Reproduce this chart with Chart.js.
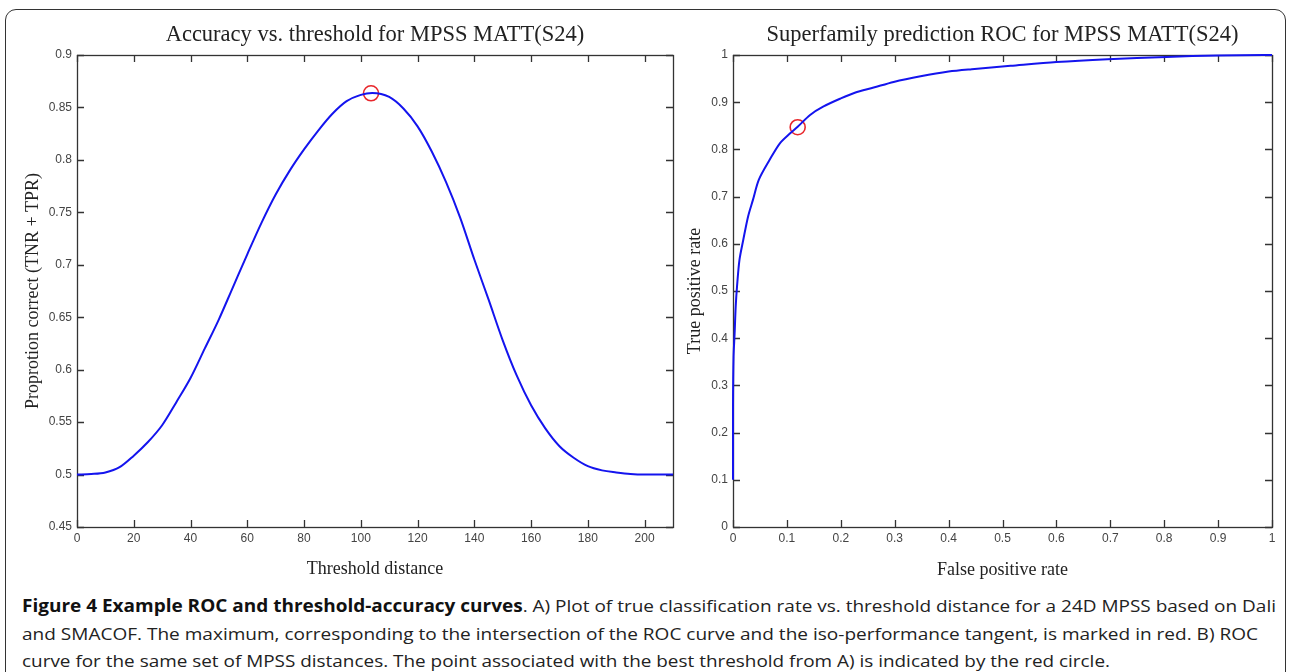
<!DOCTYPE html>
<html>
<head>
<meta charset="utf-8">
<script src="https://cdn.jsdelivr.net/npm/chart.js@4.4.1/dist/chart.umd.min.js"></script>
<style>
  html, body { margin: 0; padding: 0; background: #fff; }
  body { width: 1290px; height: 672px; position: relative; overflow: hidden; }
  #frame {
    position: absolute; left: 5px; top: 9px; width: 1281px; height: 700px;
    border: 1.5px solid #333; border-radius: 11px; box-sizing: border-box;
  }
  #leftWrap { position: absolute; left: 0; top: 0; width: 700px; height: 590px; }
  #rightWrap { position: absolute; left: 680px; top: 0; width: 610px; height: 590px; }
  .cap {
    position: absolute; left: 22px; white-space: nowrap; transform-origin: 0 50%;
    font-family: "Open Sans", "Noto Sans", sans-serif; font-size: 17px; color: #222;
    line-height: 24px;
  }
  .cap b { color: #111; }
</style>
</head>
<body>
<div id="frame"></div>
<div id="leftWrap"><canvas id="accChart" width="700" height="590"></canvas></div>
<div id="rightWrap"><canvas id="rocChart" width="610" height="590"></canvas></div>

<div class="cap" id="cap1" style="top:594px"><b>Figure 4 Example ROC and threshold-accuracy curves</b>. A) Plot of true classification rate vs. threshold distance for a 24D MPSS based on Dali</div>
<div class="cap" id="cap2" style="top:622px">and SMACOF. The maximum, corresponding to the intersection of the ROC curve and the iso-performance tangent, is marked in red. B) ROC</div>
<div class="cap" id="cap3" style="top:649px">curve for the same set of MPSS distances. The point associated with the best threshold from A) is indicated by the red circle.</div>

<script>
// ---- data ----
const thresholdX = [0, 5, 10, 15, 20, 25, 30, 35, 40, 45, 50, 55, 60, 65, 70, 75, 80, 85, 90, 95,
    100, 104, 110, 115, 120, 125, 130, 135, 140, 145, 150, 155, 160, 165, 170, 175, 180, 185, 190, 195, 200, 210];
const accuracyY = [0.5, 0.5005, 0.502, 0.507, 0.518, 0.531, 0.547, 0.569, 0.592, 0.620, 0.648, 0.679, 0.710, 0.740, 0.767, 0.790, 0.810, 0.828, 0.844, 0.856,
    0.862, 0.8638, 0.860, 0.849, 0.832, 0.808, 0.779, 0.745, 0.705, 0.667, 0.628, 0.594, 0.566, 0.544, 0.527, 0.516, 0.508, 0.504, 0.502, 0.5005, 0.5, 0.5];

const fprX = [0, 0, 0.001, 0.003, 0.005, 0.0075, 0.012, 0.019, 0.028, 0.037, 0.048, 0.068, 0.087, 0.106, 0.12,
    0.143, 0.168, 0.2, 0.226, 0.261, 0.298, 0.348, 0.4, 0.443, 0.515, 0.6, 0.695, 0.804, 0.9, 0.985, 1.0];
const tprY = [0.1, 0.255, 0.36, 0.41, 0.467, 0.51, 0.566, 0.608, 0.658, 0.693, 0.736, 0.778, 0.813, 0.834, 0.848,
    0.873, 0.891, 0.908, 0.92, 0.931, 0.943, 0.955, 0.965, 0.97, 0.977, 0.985, 0.991, 0.996, 0.999, 1.0, 1.0];

const bestThreshold = [103.6];
const bestAccuracy = [0.8635];
const bestFpr = [0.12];
const bestTpr = [0.847];

const accTicksX = [0, 20, 40, 60, 80, 100, 120, 140, 160, 180, 200];
const accTickLabelsX = ['0', '20', '40', '60', '80', '100', '120', '140', '160', '180', '200'];
const accTicksY = [0.45, 0.5, 0.55, 0.6, 0.65, 0.7, 0.75, 0.8, 0.85, 0.9];
const accTickLabelsY = ['0.45', '0.5', '0.55', '0.6', '0.65', '0.7', '0.75', '0.8', '0.85', '0.9'];
const rocTicks = [0, 0.1, 0.2, 0.3, 0.4, 0.5, 0.6, 0.7, 0.8, 0.9, 1];
const rocTickLabels = ['0', '0.1', '0.2', '0.3', '0.4', '0.5', '0.6', '0.7', '0.8', '0.9', '1'];

// ---- helpers ----
const BLUE = '#1414ee';
const RED = '#e8262b';
const AXIS = '#333';

function toPoints(xs, ys) {
    return xs.map((x, i) => ({ x: x, y: ys[i] }));
}

function useTicks(values, labels) {
    return {
        afterBuildTicks: (scale) => { scale.ticks = values.map(v => ({ value: v })); },
        labels: labels
    };
}

// matlab-ish box with inward tick marks on all four sides
const boxTicks = {
    id: 'boxTicks',
    beforeDatasetsDraw(chart) {
        const { ctx, chartArea: a, scales } = chart;
        const len = 7;
        ctx.save();
        ctx.strokeStyle = AXIS;
        ctx.lineWidth = 1.3;
        ctx.strokeRect(Math.round(a.left) + 0.5, Math.round(a.top) + 0.5,
            Math.round(a.right - a.left), Math.round(a.bottom - a.top));
        ctx.beginPath();
        scales.x.ticks.forEach(t => {
            const px = Math.round(scales.x.getPixelForValue(t.value)) + 0.5;
            ctx.moveTo(px, a.bottom); ctx.lineTo(px, a.bottom - len);
            ctx.moveTo(px, a.top); ctx.lineTo(px, a.top + len);
        });
        scales.y.ticks.forEach(t => {
            const py = Math.round(scales.y.getPixelForValue(t.value)) + 0.5;
            ctx.moveTo(a.left, py); ctx.lineTo(a.left + len, py);
            ctx.moveTo(a.right, py); ctx.lineTo(a.right - len, py);
        });
        ctx.stroke();
        ctx.restore();
    }
};

function makeChart(id, opts) {
    const xt = useTicks(opts.xTicks, opts.xLabels);
    const yt = useTicks(opts.yTicks, opts.yLabels);
    return new Chart(document.getElementById(id), {
        type: 'scatter',
        data: {
            datasets: [
                {
                    data: opts.curve,
                    showLine: true,
                    borderColor: BLUE,
                    borderWidth: 2,
                    pointRadius: 0,
                    tension: opts.tension,
                    cubicInterpolationMode: opts.mode,
                    clip: 6
                },
                {
                    data: opts.marker,
                    pointRadius: 7.5,
                    pointBorderWidth: 1.6,
                    pointBorderColor: RED,
                    pointBackgroundColor: 'rgba(0,0,0,0)',
                    clip: false
                }
            ]
        },
        options: {
            responsive: false,
            animation: false,
            events: [],
            layout: { padding: { top: 0, bottom: 0, left: 0, right: opts.rightPad } },
            plugins: {
                legend: { display: false },
                tooltip: { enabled: false },
                title: {
                    display: true,
                    text: opts.title,
                    fullSize: false,
                    color: '#222',
                    font: { family: '"Liberation Serif", "DejaVu Serif", serif', size: 22.5, weight: 'normal', lineHeight: 1.2 },
                    padding: { top: 21.5, bottom: 6.5 }
                }
            },
            scales: {
                x: {
                    type: 'linear',
                    min: opts.xMin, max: opts.xMax,
                    grid: { display: false, drawTicks: false },
                    border: { display: false },
                    afterBuildTicks: xt.afterBuildTicks,
                    afterFit: (s) => { s.height = 63; },
                    ticks: {
                        padding: 4,
                        color: '#444',
                        maxRotation: 0,
                        autoSkip: false,
                        font: { family: '"Liberation Sans", Arial, sans-serif', size: 12 },
                        callback: (v, i) => xt.labels[i]
                    },
                    title: {
                        display: true,
                        text: opts.xTitle,
                        color: '#222',
                        font: { family: '"Liberation Serif", "DejaVu Serif", serif', size: 18 },
                        padding: { top: 0, bottom: opts.xTitlePad }
                    }
                },
                y: {
                    type: 'linear',
                    min: opts.yMin, max: opts.yMax,
                    grid: { display: false, drawTicks: false },
                    border: { display: false },
                    afterBuildTicks: yt.afterBuildTicks,
                    afterFit: (s) => { s.width = opts.yWidth; },
                    ticks: {
                        padding: 5,
                        color: '#444',
                        autoSkip: false,
                        font: { family: '"Liberation Sans", Arial, sans-serif', size: 12 },
                        callback: (v, i) => yt.labels[i]
                    },
                    title: {
                        display: true,
                        text: opts.yTitle,
                        color: '#222',
                        font: { family: '"Liberation Serif", "DejaVu Serif", serif', size: 18 },
                        padding: { top: opts.yTitlePad, bottom: 0 }
                    }
                }
            }
        },
        plugins: [boxTicks]
    });
}

makeChart('accChart', {
    title: 'Accuracy vs. threshold for MPSS MATT(S24)',
    xTitle: 'Threshold distance',
    yTitle: 'Proprotion correct (TNR + TPR)',
    curve: toPoints(thresholdX, accuracyY),
    marker: toPoints(bestThreshold, bestAccuracy),
    xMin: 0, xMax: 210, yMin: 0.45, yMax: 0.9,
    xTicks: accTicksX, xLabels: accTickLabelsX,
    yTicks: accTicksY, yLabels: accTickLabelsY,
    yWidth: 77, rightPad: 27,
    xTitlePad: 10, yTitlePad: 22,
    tension: 0.4, mode: 'monotone'
});

makeChart('rocChart', {
    title: 'Superfamily prediction ROC for MPSS MATT(S24)',
    xTitle: 'False positive rate',
    yTitle: 'True positive rate',
    curve: toPoints(fprX, tprY),
    marker: toPoints(bestFpr, bestTpr),
    xMin: 0, xMax: 1, yMin: 0, yMax: 1,
    xTicks: rocTicks, xLabels: rocTickLabels,
    yTicks: rocTicks, yLabels: rocTickLabels,
    yWidth: 53, rightPad: 18,
    xTitlePad: 9, yTitlePad: 4,
    tension: 0.3, mode: 'default'
});

// squeeze caption lines to the widths in the figure
const capWidths = { cap1: 1254, cap2: 1236, cap3: 1088 };
function fitCaption() {
    Object.keys(capWidths).forEach(id => {
        const el = document.getElementById(id);
        el.style.transform = 'none';
        const w = el.getBoundingClientRect().width;
        el.style.transform = 'scaleX(' + (capWidths[id] / w) + ')';
    });
}
fitCaption();
if (document.fonts) document.fonts.ready.then(fitCaption);
</script>
</body>
</html>
